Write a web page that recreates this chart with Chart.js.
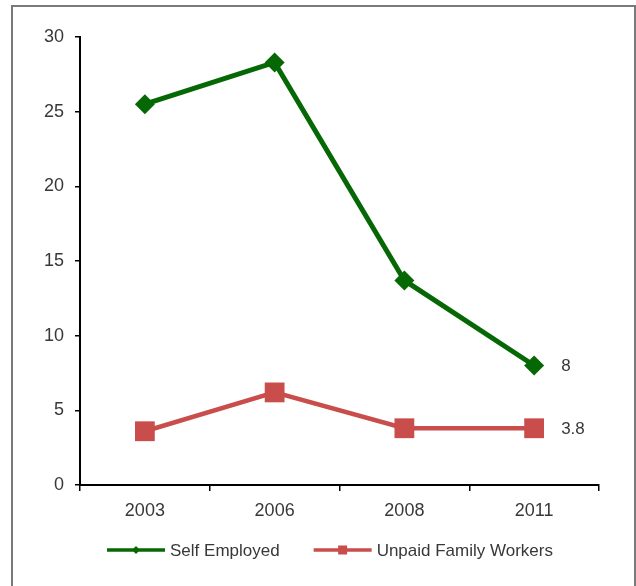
<!DOCTYPE html>
<html>
<head>
<meta charset="utf-8">
<script src="https://cdn.jsdelivr.net/npm/chart.js@4/dist/chart.umd.min.js"></script>
<style>
  html, body { margin: 0; padding: 0; background: #fff; }
  canvas { display: block; }
</style>
</head>
<body>
<canvas id="chart" width="636" height="586"></canvas>
<script>
// Employment status shares (%) by survey year
const years = ['2003', '2006', '2008', '2011'];
const selfEmployed = [25.5, 28.3, 13.7, 8];
const unpaidFamilyWorkers = [3.6, 6.2, 3.8, 3.8];
const yTickValues = [0, 5, 10, 15, 20, 25, 30];
const seriesNames = ['Self Employed', 'Unpaid Family Workers'];

const GREEN = '#056805';
const RED = '#c94d4b';
const TEXT = '#383838';
const FONT = '"Liberation Sans", Arial, sans-serif';

// Grey outer frame around the whole figure
const framePlugin = {
  id: 'frame',
  beforeDraw(chart) {
    const ctx = chart.ctx;
    ctx.save();
    ctx.fillStyle = '#fff';
    ctx.fillRect(0, 0, chart.width, chart.height);
    ctx.strokeStyle = '#7a7a7a';
    ctx.lineWidth = 2;
    ctx.strokeRect(12, 6, 623, chart.height + 10);
    ctx.restore();
  }
};

// Value labels beside the last point of each series
const endLabelPlugin = {
  id: 'endLabels',
  afterDatasetsDraw(chart) {
    const ctx = chart.ctx;
    ctx.save();
    ctx.font = '17px ' + FONT;
    ctx.fillStyle = TEXT;
    ctx.textAlign = 'left';
    ctx.textBaseline = 'middle';
    chart.data.datasets.forEach((ds, i) => {
      const meta = chart.getDatasetMeta(i);
      const last = meta.data.length - 1;
      const pt = meta.data[last];
      ctx.fillText(String(ds.data[last]), pt.x + 27, pt.y + 1);
    });
    ctx.restore();
  }
};

// Legend drawn as line-with-marker samples under the x axis
const legendPlugin = {
  id: 'lineLegend',
  afterDraw(chart) {
    const ctx = chart.ctx;
    ctx.save();
    ctx.font = '17px ' + FONT;
    const sample = 58, gapText = 5, gapItems = 34;
    const items = chart.data.datasets.map(ds => ({
      ds, w: sample + gapText + ctx.measureText(ds.label).width
    }));
    const total = items.reduce((a, it) => a + it.w, 0) + gapItems * (items.length - 1);
    let x = 330 - total / 2;
    const y = 550;
    items.forEach(({ ds, w }) => {
      ctx.strokeStyle = ds.borderColor;
      ctx.lineWidth = 3.5;
      ctx.beginPath();
      ctx.moveTo(x, y);
      ctx.lineTo(x + sample, y);
      ctx.stroke();
      ctx.fillStyle = ds.borderColor;
      const cx = x + sample / 2;
      ctx.beginPath();
      if (ds.pointStyle === 'rectRot') {
        ctx.moveTo(cx - 4, y); ctx.lineTo(cx, y - 4); ctx.lineTo(cx + 4, y); ctx.lineTo(cx, y + 4);
      } else {
        ctx.rect(cx - 4.5, y - 4.5, 9, 9);
      }
      ctx.closePath();
      ctx.fill();
      ctx.fillStyle = TEXT;
      ctx.textAlign = 'left';
      ctx.textBaseline = 'middle';
      ctx.fillText(ds.label, x + sample + gapText, y + 1);
      x += w + gapItems;
    });
    ctx.restore();
  }
};

new Chart(document.getElementById('chart'), {
  type: 'line',
  data: {
    labels: years,
    datasets: [
      {
        label: seriesNames[0],
        data: selfEmployed,
        borderColor: GREEN,
        backgroundColor: GREEN,
        borderWidth: 5,
        pointStyle: 'rectRot',
        pointRadius: 10,
        pointBorderWidth: 0,
        pointBackgroundColor: GREEN,
        tension: 0
      },
      {
        label: seriesNames[1],
        data: unpaidFamilyWorkers,
        borderColor: RED,
        backgroundColor: RED,
        borderWidth: 4.5,
        pointStyle: 'rect',
        pointRadius: 14,
        pointBorderWidth: 0,
        pointBackgroundColor: RED,
        tension: 0
      }
    ]
  },
  options: {
    responsive: false,
    animation: false,
    devicePixelRatio: 1,
    layout: { padding: { left: 0, top: 37, right: 37, bottom: 52 } },
    plugins: {
      legend: { display: false },
      tooltip: { enabled: false }
    },
    scales: {
      x: {
        offset: true,
        afterFit(scale) { scale.height = 49; },
        grid: { offset: true, drawOnChartArea: false, drawTicks: true, tickLength: 6, color: '#000', lineWidth: 1.5 },
        border: { color: '#000', width: 2 },
        ticks: { padding: 9, color: TEXT, font: { size: 18, family: FONT } }
      },
      y: {
        min: 0,
        max: 30,
        afterBuildTicks(scale) { scale.ticks = yTickValues.map(v => ({ value: v })); },
        afterFit(scale) { scale.width = 80; },
        grid: { drawOnChartArea: false, drawTicks: true, tickLength: 5, color: '#000', lineWidth: 1.5 },
        border: { color: '#000', width: 2 },
        ticks: { padding: 11, color: TEXT, font: { size: 18, family: FONT } }
      }
    }
  },
  plugins: [framePlugin, endLabelPlugin, legendPlugin]
});
</script>
</body>
</html>
